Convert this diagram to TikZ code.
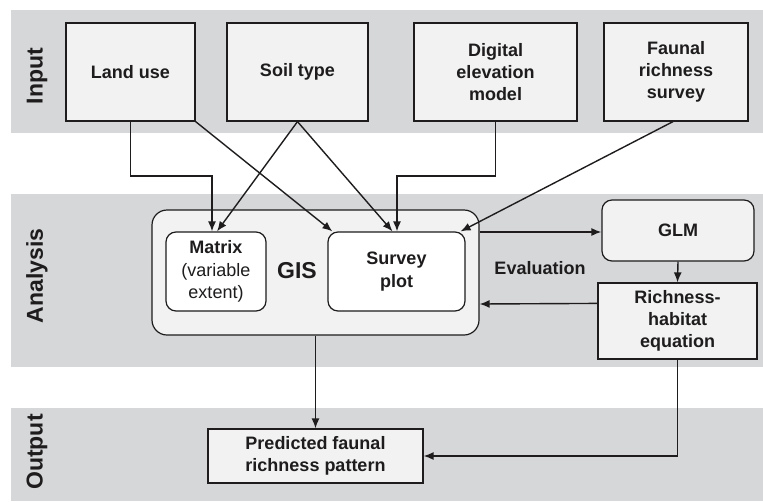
\documentclass[tikz,border=0pt]{standalone}
\usepackage{fontspec}
\setmainfont{Liberation Sans}
\usetikzlibrary{arrows.meta,calc}
\definecolor{band}{RGB}{214,215,217}
\definecolor{boxfill}{RGB}{241,242,241}
\definecolor{ink}{RGB}{30,28,29}
\tikzset{
  bandrect/.style={fill=band, draw=none},
  inbox/.style={draw=ink, fill=boxfill, line width=1.2pt, align=center, inner sep=0pt,
    text=ink, font=\fontsize{18}{22.3}\selectfont\bfseries},
  roundbox/.style={inbox, rounded corners=10pt},
  whitebox/.style={inbox, fill=white, rounded corners=10pt},
  sidelabel/.style={rotate=90, font=\fontsize{23}{26}\selectfont\bfseries, text=ink},
  conn/.style={draw=ink, line width=1.4pt, -{Latex[length=10pt,width=8pt]}},
}
\begin{document}
\begin{tikzpicture}[x=1pt,y=-1pt]
\useasboundingbox (0,0) rectangle (763,501);
% bands
\fill[bandrect] (11,10) rectangle (763,133);
\fill[bandrect] (11,194) rectangle (763,367);
\fill[bandrect] (11,408) rectangle (763,501);
% side labels
\node[sidelabel] (lin) at (37,76) {Input};
\node[sidelabel] (lan) at (37,276) {Analysis};
\node[sidelabel] (lout) at (37,452) {Output};
% input boxes
\node[inbox, minimum width=129pt, minimum height=98pt] (landuse) at (130.5,72) {Land use};
\node[inbox, minimum width=141pt, minimum height=98pt] (soil) at (297.5,72) {Soil type};
\node[inbox, minimum width=163pt, minimum height=98pt] (dem) at (495.5,72) {Digital\\elevation\\model};
\node[inbox, minimum width=144pt, minimum height=98pt] (faunal) at (676,72) {Faunal\\richness\\survey};
% analysis
\node[inbox, rounded corners=15pt, minimum width=327pt, minimum height=125pt] (gis) at (315.5,272.5) {};
\node[font=\fontsize{23}{26}\selectfont\bfseries, text=ink] (gislabel) at (297,271) {GIS};
\node[whitebox, minimum width=100pt, minimum height=79pt] (matrix) at (216,271.5)
  {Matrix\\{\mdseries(variable}\\{\mdseries extent)}};
\node[whitebox, minimum width=137pt, minimum height=79pt] (survey) at (396.5,271.5) {Survey\\plot};
\node[roundbox, minimum width=152pt, minimum height=61pt] (glm) at (678,230.5) {GLM};
\node[inbox, minimum width=159pt, minimum height=76pt] (rich) at (677.5,321) {Richness-\\habitat\\equation};
\node[font=\fontsize{18}{22}\selectfont\bfseries, text=ink] (eval) at (540,268) {Evaluation};
% output
\node[inbox, minimum width=215pt, minimum height=54pt] (pred) at (315.5,456) {Predicted faunal\\richness pattern};
% connectors
\coordinate (e1) at (212,176);
\coordinate (e2) at (397,176);
\draw[conn] (landuse.south) |- (e1) -- (e1 |- matrix.north);
\draw[conn] (landuse.south east) -- ($(survey.north west)+(5,0)$);
\draw[conn] (soil.south) -- ($(matrix.north)+(1,0)$);
\draw[conn] (soil.south) -- ($(survey.north)+(-4,0)$);
\draw[conn] (dem.south) |- (e2) -- (e2 |- survey.north);
\draw[conn] ($(faunal.south)+(-3,0)$) -- ($(survey.north east)+(-5,0)$);
\draw[conn] ($(gis.east)+(0,-40.5)$) -- ($(glm.west)+(0,1.5)$);
\draw[conn] (glm.south) -- (rich.north);
\draw[conn] ($(rich.north west)+(0,21)$) -- ($(gis.east)+(0,31.5)$);
\draw[conn] (gis.south) -- (pred.north);
\draw[conn] (rich.south) |- (pred.east);
\end{tikzpicture}
\end{document}
